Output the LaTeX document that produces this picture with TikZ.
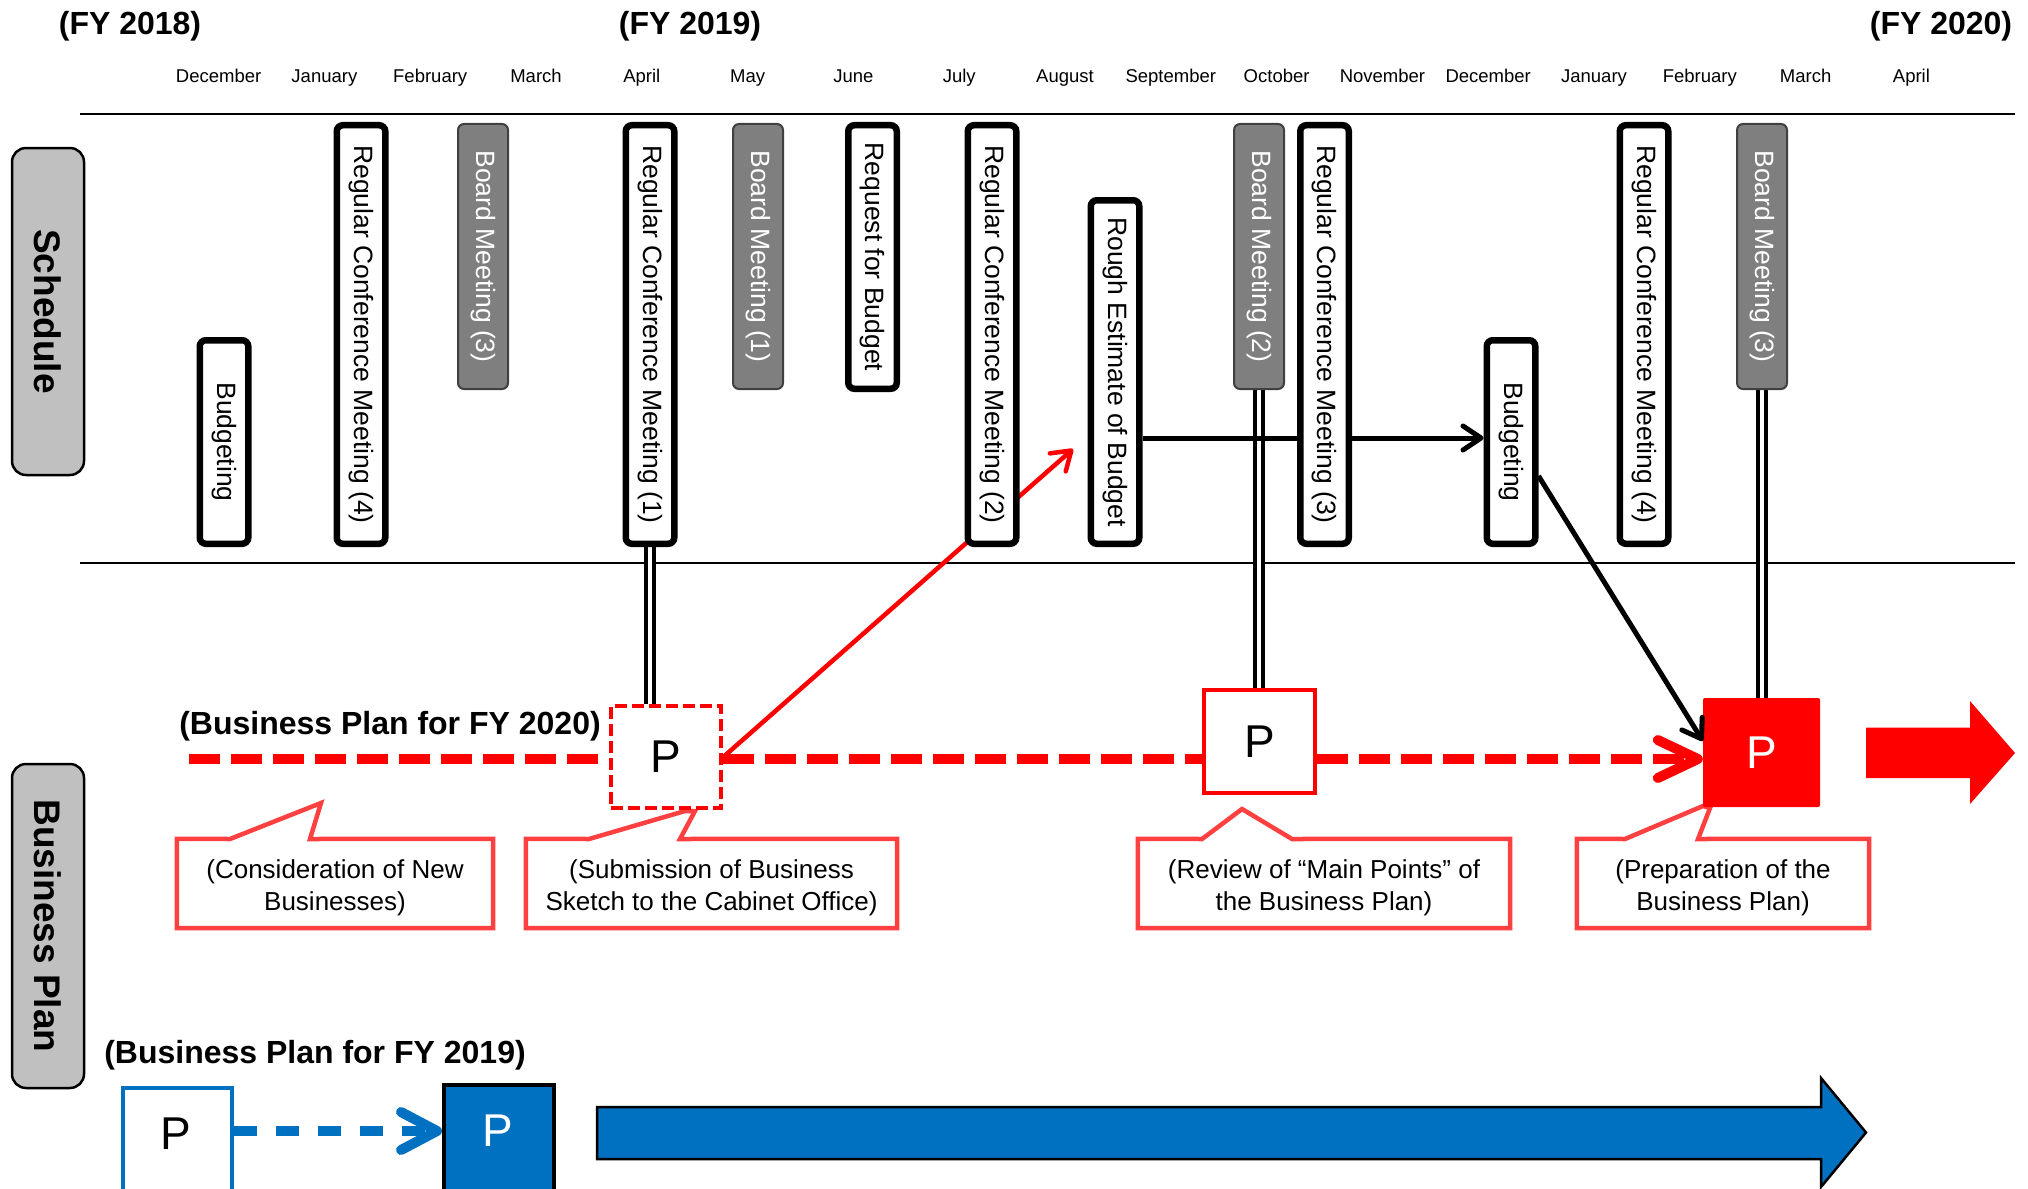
\documentclass[tikz,border=0pt]{standalone}
\usepackage{fontspec}
\setmainfont{Liberation Sans}
\usetikzlibrary{arrows.meta,backgrounds}
\definecolor{pred}{HTML}{FF0000}
\definecolor{cred}{HTML}{FF4040}
\definecolor{pblue}{HTML}{0070C0}
\definecolor{lgray}{HTML}{C0C0C0}
\definecolor{dgray}{HTML}{7F7F7F}
\newcommand\fsz[2]{\fontsize{#1}{#2}\selectfont}
\begin{document}
\begin{tikzpicture}[x=1pt,y=-1pt,
 month/.style={font=\fsz{18.5}{22}, anchor=base},
 fy/.style={font=\bfseries\fsz{32}{38}},
 wbox/.style={draw=black, line width=6.5pt, fill=white, rounded corners=6pt, rotate=-90, inner sep=0pt, minimum height=48.5pt, font=\fsz{26.5}{30}},
 gbox/.style={draw=black!75, line width=2pt, fill=dgray, text=white, rounded corners=6pt, rotate=-90, inner sep=0pt, minimum height=50pt, minimum width=265pt, font=\fsz{26.5}{30}},
 side/.style={draw=black, line width=2.5pt, fill=lgray, rounded corners=14pt, rotate=-90, inner sep=0pt, minimum height=72pt, font=\bfseries\fsz{37}{44}},
 ptxt/.style={font=\fsz{46}{50}},
 dbl/.style={draw=black, line width=3.3pt, double=white, double distance=4.5pt},
 blk/.style={draw=black, line width=5pt, -{Straight Barb[length=18pt,width=24pt,round]}},
 rarr/.style={draw=pred, line width=4.5pt, -{Straight Barb[length=18pt,width=24pt,round]}},
 rdash/.style={draw=pred, line width=10pt, dash pattern=on 31pt off 11pt},
 bdash/.style={draw=pblue, line width=10pt, dash pattern=on 23pt off 19pt},
 rule/.style={draw=black, line width=2.7pt},
 cbox/.style={inner sep=0pt, minimum height=89pt, align=center, font=\fsz{26}{32}},
 callout/.style={draw=cred, line width=4.5pt, fill=white, line join=miter},
 ttl/.style={font=\bfseries\fsz{32}{38}}
]
\useasboundingbox (0,0) rectangle (2028,1188);

% titles
\node[fy] (fy18) at (130,26) {(FY 2018)};
\node[fy] (fy19) at (690,26) {(FY 2019)};
\node[fy] (fy20) at (1941,26) {(FY 2020)};

% months
\foreach \m [count=\i from 0] in {December,January,February,March,April,May,June,July,August,September,October,November,December,January,February,March,April}
  \node[month] (m\i) at (218.6+105.8*\i,83) {\m};

% side labels
\node[side, minimum width=327pt] (lsched) at (48,311.5) {Schedule};
\node[side, minimum width=324pt] (lbp) at (48,926) {Business Plan};

% schedule boxes
\node[wbox, minimum width=203.5pt] (bud1) at (224,442) {Budgeting};
\node[wbox, minimum width=418.5pt] (rcm4a) at (361,334.5) {Regular Conference Meeting (4)};
\node[gbox] (bm3a) at (483,256.5) {Board Meeting (3)};
\node[wbox, minimum width=418.5pt] (rcm1) at (650,334.5) {Regular Conference Meeting (1)};
\node[gbox] (bm1) at (758,256.5) {Board Meeting (1)};
\node[wbox, minimum width=263.5pt] (req) at (872.5,257) {Request for Budget};
\node[wbox, minimum width=418.5pt] (rcm2) at (992,334.5) {Regular Conference Meeting (2)};
\node[wbox, minimum width=343.5pt] (rough) at (1115,372) {Rough Estimate of Budget};
\node[gbox] (bm2) at (1259,256.5) {Board Meeting (2)};
\node[wbox, minimum width=418.5pt] (rcm3) at (1324.5,334.5) {Regular Conference Meeting (3)};
\node[wbox, minimum width=203.5pt] (bud2) at (1511,442) {Budgeting};
\node[wbox, minimum width=418.5pt] (rcm4b) at (1644,334.5) {Regular Conference Meeting (4)};
\node[gbox] (bm3b) at (1762,256.5) {Board Meeting (3)};

% business plan FY2020
\node[ttl] (bp20) at (390,726) {(Business Plan for FY 2020)};
\node[draw=pred, line width=4.5pt, dash pattern=on 12pt off 5pt, fill=white, minimum width=110pt, minimum height=102pt, inner sep=0pt, ptxt] (p1) at (666,757) {P};
\node[draw=pred, line width=4.5pt, fill=white, minimum width=111pt, minimum height=103pt, inner sep=0pt, ptxt] (p2) at (1259.5,741.5) {P};
\node[fill=pred, rounded corners=2pt, minimum width=117pt, minimum height=109pt, inner sep=0pt, ptxt, text=white] (p3) at (1761.5,752.5) {P};

\coordinate (rs) at (189,759);
\coordinate (rtip) at (1073,449);
\draw[rdash] (rs) -- (p1.west |- rs);
\draw[rdash] (p1.east |- rs) -- (p2.west |- rs);
\draw[rdash, -{Straight Barb[length=40pt,width=38pt,round]}] (p2.east |- rs) -- (p3.west |- rs);

% big red arrow
\fill[pred] (1866,727.5) -- (1970,727.5) -- (1970,701) -- (2015,753) -- (1970,804) -- (1970,778) -- (1866,778) -- cycle;

% callouts (text placed 4px lower than the frame centre)
\node[cbox, minimum width=316pt] (c1) at (335,887.5) {(Consideration of New\\Businesses)};
\node[cbox, minimum width=371pt] (c2) at (711.5,887.5) {(Submission of Business\\Sketch to the Cabinet Office)};
\node[cbox, minimum width=372pt] (c3) at (1324,887.5) {(Review of “Main Points” of\\the Business Plan)};
\node[cbox, minimum width=292pt] (c4) at (1723,887.5) {(Preparation of the\\Business Plan)};

% black arrow to p3
\draw[blk] (bud2.north |- 0,476) -- (p3.west |- 0,741);

% business plan FY2019
\node[ttl] (bp19) at (315,1055) {(Business Plan for FY 2019)};
\node[draw=pblue, line width=4pt, fill=white, minimum width=109pt, minimum height=112pt, inner sep=0pt] (bp1) at (177.5,1144) {};
\node[ptxt] (bp1t) at (176,1134) {P};
\node[draw=black, line width=4pt, fill=pblue, minimum width=110pt, minimum height=115pt, inner sep=0pt] (bp2) at (499,1142.5) {};
\node[ptxt, text=white] (bp2t) at (498,1131) {P};
\coordinate (bs) at (0,1131);
\draw[bdash, -{Straight Barb[length=36pt,width=38pt,round]}] (bp1.east |- bs) -- (bp2.west |- bs);
\draw[black, line width=2.5pt, fill=pblue] (597,1107) -- (1821,1107) -- (1821,1078) -- (1866,1132.5) -- (1821,1187) -- (1821,1159) -- (597,1159) -- cycle;

\begin{scope}[on background layer]
 \fill[white] (0,0) rectangle (2028,1188);
 \draw[rule] (80,114) -- (2015,114);
 \draw[rule] (80,563) -- (2015,563);
 \draw[callout] ([yshift=4pt]c1.north west) -- (230,839) -- (321,803) -- (310,839) -- ([yshift=4pt]c1.north east) -- ([yshift=4pt]c1.south east) -- ([yshift=4pt]c1.south west) -- cycle;
 \draw[callout] ([yshift=4pt]c2.north west) -- (589,839) -- (685,811) -- (695,811) -- (680,839) -- ([yshift=4pt]c2.north east) -- ([yshift=4pt]c2.south east) -- ([yshift=4pt]c2.south west) -- cycle;
 \draw[callout] ([yshift=4pt]c3.north west) -- (1202,839) -- (1242,809) -- (1292,839) -- ([yshift=4pt]c3.north east) -- ([yshift=4pt]c3.south east) -- ([yshift=4pt]c3.south west) -- cycle;
 \draw[callout] ([yshift=4pt]c4.north west) -- (1625,839) -- (1703,806) -- (1710,808) -- (1698,839) -- ([yshift=4pt]c4.north east) -- ([yshift=4pt]c4.south east) -- ([yshift=4pt]c4.south west) -- cycle;
 \draw[dbl] (rcm1.east) -- (rcm1.east |- p1.north);
 \draw[dbl] (bm2.east) -- (bm2.east |- p2.north);
 \draw[dbl] (bm3b.east) -- (bm3b.east |- p3.north);
 \draw[rarr] (p1.east) -- (rtip);
 \draw[blk] (rough.north |- 0,438) -- (bud2.south |- 0,438);
\end{scope}
\end{tikzpicture}
\end{document}
